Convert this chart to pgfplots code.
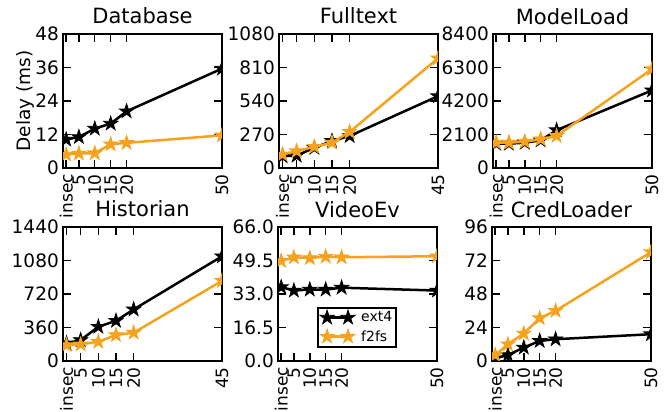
\documentclass[border=0pt]{standalone}
\usepackage{pgfplots}
\pgfplotsset{compat=1.18}
\usepackage{fontspec}
\setmainfont{DejaVu Sans}
\definecolor{fsorange}{RGB}{245,163,30}

% filled five-pointed star
\pgfdeclareplotmark{fstar}{%
  \pgfpathmoveto{\pgfpointpolar{90}{\pgfplotmarksize}}%
  \pgfpathlineto{\pgfpointpolar{126}{0.382\pgfplotmarksize}}%
  \pgfpathlineto{\pgfpointpolar{162}{\pgfplotmarksize}}%
  \pgfpathlineto{\pgfpointpolar{198}{0.382\pgfplotmarksize}}%
  \pgfpathlineto{\pgfpointpolar{234}{\pgfplotmarksize}}%
  \pgfpathlineto{\pgfpointpolar{270}{0.382\pgfplotmarksize}}%
  \pgfpathlineto{\pgfpointpolar{306}{\pgfplotmarksize}}%
  \pgfpathlineto{\pgfpointpolar{342}{0.382\pgfplotmarksize}}%
  \pgfpathlineto{\pgfpointpolar{18}{\pgfplotmarksize}}%
  \pgfpathlineto{\pgfpointpolar{54}{0.382\pgfplotmarksize}}%
  \pgfpathclose
  \pgfusepathqfillstroke}

\newcommand{\tfont}{\fontsize{21}{24}\selectfont}
\newcommand{\lfont}{\fontsize{14}{15}\selectfont}

\pgfplotsset{
  every axis title/.style={at={(0.5,1)}, anchor=base, yshift=10pt, inner sep=0pt},
  panel/.style={
    scale only axis, width=159pt, height=134pt, anchor=south west,
    xmin=0, ymin=0,
    tick align=inside, major tick length=8pt,
    axis line style={line width=2.4pt},
    every tick/.style={black, line width=1.4pt},
    /pgf/number format/assume math mode=true,
    /pgf/number format/1000 sep={},
    xticklabel style={font=\fontsize{17}{19}\selectfont, rotate=90, anchor=east, inner sep=6pt},
    yticklabel style={font=\fontsize{18.5}{20}\selectfont, inner sep=4pt},
    clip marker paths=true,
  },
  x50/.style={xmax=50, xtick={1,5,10,15,20,50}, xticklabels={insec,5,10,15,20,50}},
  x45/.style={xmax=45, xtick={1,5,10,15,20,45}, xticklabels={insec,5,10,15,20,45}},
  e4/.style={black, line width=2.5pt, mark=fstar, mark size=7.5pt, mark options={solid, line width=0.8pt}},
  ff/.style={fsorange, line width=2.5pt, mark=fstar, mark size=7.5pt, mark options={solid, line width=0.8pt}},
}

\begin{document}
\begin{tikzpicture}
\useasboundingbox (0,0) rectangle (670pt,412pt);

% top row
\begin{axis}[panel, x50, at={(63pt,244pt)}, title={\tfont Database},
  ymax=48, ytick={0,12,24,36,48},
  ylabel={\fontsize{18.5}{20}\selectfont Delay (ms)},
  ylabel style={at={(axis description cs:-0.239,0.5)}, anchor=center}]
\addplot[e4] coordinates {(1,10.2)(5,11.1)(10,14.1)(15,15.9)(20,20.3)(50,35.6)};
\addplot[ff] coordinates {(1,4.8)(5,5.2)(10,5.3)(15,8.5)(20,9.0)(50,11.7)};
\end{axis}

\begin{axis}[panel, x45, at={(279pt,244pt)}, title={\tfont Fulltext},
  ymax=1080, ytick={0,270,540,810,1080}]
\addplot[e4] coordinates {(1,95)(5,100)(10,163)(15,218)(20,258)(45,579)};
\addplot[ff] coordinates {(1,109)(5,136)(10,171)(15,204)(20,291)(45,884)};
\end{axis}

\begin{axis}[panel, x50, at={(493pt,244pt)}, title={\tfont ModelLoad},
  ymax=8400, ytick={0,2100,4200,6300,8400}]
\addplot[e4] coordinates {(1,1524)(5,1524)(10,1587)(15,1735)(20,2370)(50,4867)};
\addplot[ff] coordinates {(1,1587)(5,1587)(10,1650)(15,1800)(20,2010)(50,6200)};
\end{axis}

% bottom row
\begin{axis}[panel, x45, at={(63pt,51pt)}, title={\tfont Historian},
  ymax=1440, ytick={0,360,720,1080,1440}]
\addplot[e4] coordinates {(1,189)(5,225)(10,368)(15,432)(20,554)(45,1125)};
\addplot[ff] coordinates {(1,171)(5,179)(10,207)(15,279)(20,304)(45,861)};
\end{axis}

\begin{axis}[panel, x50, at={(278pt,51pt)}, title={\tfont VideoEv},
  ymax=66, ytick={0,16.5,33,49.5,66},
  yticklabel style={/pgf/number format/.cd, fixed, fixed zerofill, precision=1},
  legend style={at={(0.245,0.1)}, anchor=south west, draw=black, line width=2pt,
    inner xsep=2pt, inner ysep=2pt, row sep=3pt, column sep=4pt, cells={anchor=west}},
  legend image code/.code={\draw[#1] plot coordinates {(0pt,0pt) (21pt,0pt)};}]
\addplot[e4] coordinates {(1,36.4)(5,34.7)(10,35.2)(15,35.2)(20,36.1)(50,34.7)};
\addplot[ff] coordinates {(1,49.3)(5,51.1)(10,50.7)(15,51.4)(20,51.1)(50,51.6)};
\legend{{\lfont ext4},{\lfont f2fs}}
\end{axis}

\begin{axis}[panel, x50, at={(492pt,51pt)}, title={\tfont CredLoader},
  ymax=96, ytick={0,24,48,72,96}]
\addplot[e4] coordinates {(1,1.9)(5,4.3)(10,9.6)(15,14.4)(20,15.6)(50,19.2)};
\addplot[ff] coordinates {(1,4.3)(5,12)(10,19.7)(15,30.7)(20,36)(50,78)};
\end{axis}
\end{tikzpicture}
\end{document}
